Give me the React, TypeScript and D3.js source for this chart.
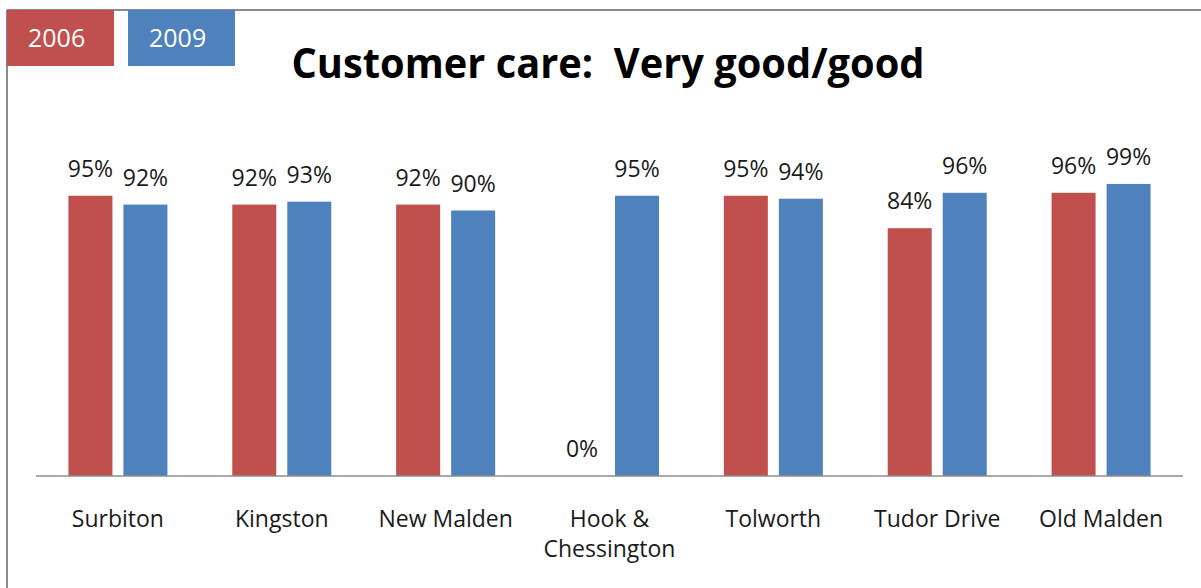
import React from "react";
import * as d3 from "d3";

const categories: string[][] = [
  ["Surbiton"],
  ["Kingston"],
  ["New Malden"],
  ["Hook &", "Chessington"],
  ["Tolworth"],
  ["Tudor Drive"],
  ["Old Malden"],
];
const series2006: number[] = [0.95, 0.92, 0.92, 0.0, 0.95, 0.84, 0.96];
const series2009: number[] = [0.92, 0.93, 0.9, 0.95, 0.94, 0.96, 0.99];
const seriesNames: string[] = ["2006", "2009"];
const seriesColors: string[] = ["#C0504D", "#4F81BD"];
const title = "Customer care:  Very good/good";

const W = 1201;
const H = 588;
const FONT = "'Open Sans', 'DejaVu Sans', sans-serif";

export default function App() {
  const plotLeft = 36;
  const plotRight = 1183;
  const baseY = 476;
  const topY = 181;

  const x0 = d3
    .scaleBand<number>()
    .domain(categories.map((_, i) => i))
    .range([plotLeft, plotRight])
    .paddingInner(0)
    .paddingOuter(0);
  const groupW = 99;
  const x1 = d3
    .scaleBand<number>()
    .domain([0, 1])
    .range([0, groupW])
    .paddingInner(0.2);
  const y = d3.scaleLinear().domain([0, 1]).range([baseY, topY]);
  const fmt = d3.format(".0%");

  const data = [series2006, series2009];

  return (
    <svg
      width={W}
      height={H}
      style={{ position: "absolute", left: 0, top: 0, display: "block" }}
      fontFamily={FONT}
    >
      <rect x={0} y={0} width={W} height={H} fill="#fff" />
      {/* frame */}
      <line x1={7} y1={10} x2={W} y2={10} stroke="#8c8c8c" strokeWidth={2} />
      <line x1={7} y1={10} x2={7} y2={H} stroke="#8c8c8c" strokeWidth={2} />

      {/* legend boxes */}
      {seriesNames.map((name, i) => {
        const bx = i === 0 ? 7 : 128;
        return (
          <g key={name}>
            <rect x={bx} y={10} width={107} height={56} fill={seriesColors[i]} />
            <text x={bx + 21} y={47} fill="#fff" fontSize={25}>
              {name}
            </text>
          </g>
        );
      })}

      {/* title */}
      <text
        x={608}
        y={78}
        textAnchor="middle"
        fontSize={42}
        fontWeight="bold"
        fill="#000"
        textLength={633}
        lengthAdjust="spacingAndGlyphs"
        style={{ whiteSpace: "pre" }}
      >
        {title}
      </text>

      {/* bars */}
      {categories.map((_, ci) => {
        const bandStart = x0(ci)!;
        const gx = bandStart + (x0.bandwidth() - groupW) / 2;
        return (
          <g key={ci}>
            {data.map((s, si) => {
              const v = s[ci];
              const bx = gx + x1(si)!;
              const bw = x1.bandwidth();
              return (
                <g key={si}>
                  {v > 0 && (
                    <rect
                      x={bx}
                      y={y(v)}
                      width={bw}
                      height={baseY - y(v)}
                      fill={seriesColors[si]}
                    />
                  )}
                  <text
                    x={bx + bw / 2}
                    y={y(v) - 19}
                    textAnchor="middle"
                    fontSize={23}
                    fill="#1a1a1a"
                  >
                    {fmt(v)}
                  </text>
                </g>
              );
            })}
          </g>
        );
      })}

      {/* baseline */}
      <line x1={plotLeft} y1={baseY} x2={plotRight} y2={baseY} stroke="#8c8c8c" strokeWidth={1.5} />

      {/* category labels */}
      {categories.map((lines, ci) => {
        const cx = x0(ci)! + x0.bandwidth() / 2;
        return (
          <text key={ci} textAnchor="middle" fontSize={23} fill="#1a1a1a">
            {lines.map((l, li) => (
              <tspan key={li} x={cx} y={527 + li * 30}>
                {l}
              </tspan>
            ))}
          </text>
        );
      })}
    </svg>
  );
}
